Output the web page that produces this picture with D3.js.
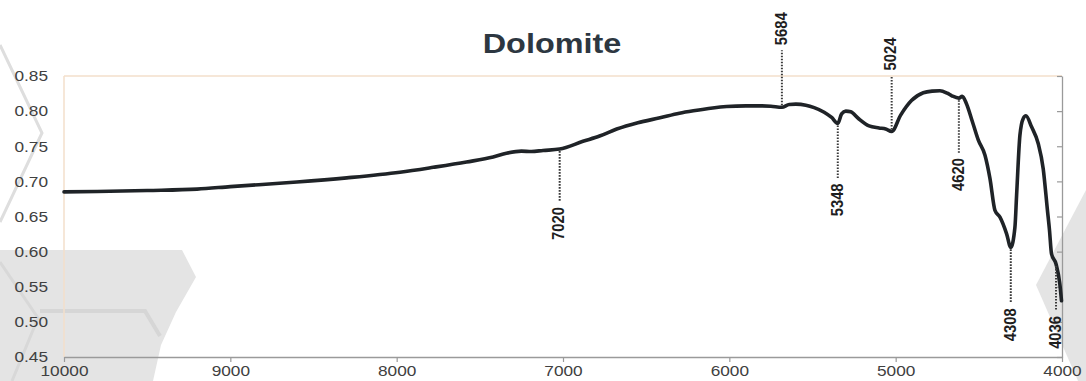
<!DOCTYPE html>
<html>
<head>
<meta charset="utf-8">
<script src="https://cdn.jsdelivr.net/npm/d3@7/dist/d3.min.js"></script>
<style>
  html, body { margin: 0; padding: 0; background: #fff; }
  svg { display: block; }
</style>
</head>
<body>
<svg id="chart" width="1086" height="381"></svg>
<script>
// Dolomite NIR spectrum, wavenumber (cm-1) against reflectance
const wavenumbers = [
  10000, 9800, 9500, 9200, 9000, 8600, 8300, 7980, 7780, 7580, 7420, 7340, 7250, 7190, 7120, 7020,
  6880, 6780, 6677, 6550, 6417, 6300, 6216, 6100, 6016, 5900, 5816, 5750, 5684, 5640, 5600, 5540,
  5490, 5430, 5385, 5348, 5325, 5300, 5270, 5224, 5160, 5100, 5060, 5024, 4970, 4905, 4834, 4780,
  4734, 4690, 4660, 4620, 4600, 4575, 4540, 4503, 4463, 4433, 4403, 4373, 4333, 4308, 4283, 4273,
  4253, 4233, 4217, 4183, 4143, 4113, 4088, 4075, 4063, 4036, 4013, 4003
];
const reflectance = [
  0.685, 0.6855, 0.687, 0.689, 0.6925, 0.699, 0.705, 0.713, 0.720, 0.7276, 0.7347, 0.740, 0.743, 0.7425, 0.744, 0.746,
  0.757, 0.7645, 0.7745, 0.7835, 0.7905, 0.797, 0.8005, 0.8045, 0.8065, 0.8075, 0.8075, 0.807, 0.8055, 0.8095, 0.810, 0.8085,
  0.805, 0.7985, 0.791, 0.7825, 0.796, 0.800, 0.799, 0.7895, 0.779, 0.776, 0.7745, 0.771, 0.7943, 0.815, 0.8262, 0.8285,
  0.829, 0.8255, 0.8215, 0.8185, 0.821, 0.811, 0.786, 0.7586, 0.7371, 0.7039, 0.6586, 0.649, 0.6253, 0.6061, 0.6347, 0.680,
  0.7657, 0.7896, 0.7935, 0.7776, 0.7539, 0.7181, 0.660, 0.630, 0.5967, 0.5824, 0.5539, 0.530
];

// Axis ticks
const xTicks = [10000, 9000, 8000, 7000, 6000, 5000, 4000];
const yTicks = [0.45, 0.50, 0.55, 0.60, 0.65, 0.70, 0.75, 0.80, 0.85];

// Annotated band positions and which side of the curve each label sits on
const markWavenumbers = [7020, 5684, 5348, 5024, 4620, 4308, 4036];
const markSides = ["below", "above", "below", "above", "below", "below", "below"];

const titleText = "Dolomite";

// ---- layout ----
const plot = { left: 64, right: 1062, top: 76, bottom: 357 };
const markLengths = [53, 57, 55, 56, 55, 56, 47];
const labelFont = "'Liberation Sans', Arial, Helvetica, sans-serif";
const stretch = 1.15;

const svg = d3.select("#chart");

// faint background artwork
const bg = svg.append("g");
bg.append("polygon")
  .attr("points", "0,250 182,250 196,277 176,312 161,345 153,381 0,381")
  .attr("fill", "#e4e4e4");
bg.append("polyline")
  .attr("points", "40,311 145,311 160,336")
  .attr("fill", "none").attr("stroke", "#d6d6d6").attr("stroke-width", 4);
bg.append("polyline")
  .attr("points", "0,45 42,133 0,222")
  .attr("fill", "none").attr("stroke", "#dedede").attr("stroke-width", 3);
bg.append("polyline")
  .attr("points", "0,262 38,318 12,381")
  .attr("fill", "none").attr("stroke", "#d8d8d8").attr("stroke-width", 3);
bg.append("polygon")
  .attr("points", "1036,285 1086,190 1086,381 1078,381")
  .attr("fill", "#e4e4e4");

const x = d3.scaleLinear().domain([10000, 4000]).range([plot.left, plot.right]);
const y = d3.scaleLinear().domain([0.45, 0.85]).range([plot.bottom, plot.top]);

// plot frame: light top and left edges
svg.append("line")
  .attr("x1", plot.left).attr("x2", plot.right)
  .attr("y1", plot.top).attr("y2", plot.top)
  .attr("stroke", "#f3dfcb").attr("stroke-width", 1.5);
svg.append("line")
  .attr("x1", plot.left).attr("x2", plot.left)
  .attr("y1", plot.top).attr("y2", plot.bottom)
  .attr("stroke", "#f3dfcb").attr("stroke-width", 1.5);

// left axis labels
const yAxis = svg.append("g")
  .attr("transform", `translate(${plot.left},0)`)
  .call(d3.axisLeft(y).tickValues(yTicks).tickFormat(d3.format(".2f")).tickSize(0).tickPadding(0));
yAxis.select(".domain").remove();
yAxis.selectAll("text")
  .attr("x", -16 / stretch)
  .attr("transform", `scale(${stretch},1)`)
  .attr("fill", "#404040")
  .style("font-family", labelFont)
  .style("font-size", "15px");

// right axis with inward ticks
const yAxisRight = svg.append("g")
  .attr("transform", `translate(${plot.right},0)`)
  .call(d3.axisLeft(y).tickValues(yTicks).tickFormat("").tickSizeInner(5).tickSizeOuter(0));
yAxisRight.select(".domain").attr("stroke", "#9a9a9a").attr("stroke-width", 1.3);
yAxisRight.selectAll(".tick line").attr("stroke", "#9a9a9a").attr("stroke-width", 1.2);

// bottom axis
const xAxis = svg.append("g")
  .attr("transform", `translate(0,${plot.bottom})`)
  .call(d3.axisBottom(x).tickValues(xTicks).tickFormat(d3.format("d")).tickSizeInner(5).tickSizeOuter(0).tickPadding(3));
xAxis.select(".domain").attr("stroke", "#9a9a9a").attr("stroke-width", 1.3);
xAxis.selectAll(".tick line").attr("stroke", "#9a9a9a").attr("stroke-width", 1.2);
xAxis.selectAll(".tick text")
  .attr("transform", `scale(${stretch},1)`)
  .attr("fill", "#404040")
  .style("font-family", labelFont)
  .style("font-size", "15px");

// title
svg.append("text")
  .attr("transform", `translate(552,53) scale(1.2,1)`)
  .attr("text-anchor", "middle")
  .attr("fill", "#2d3741")
  .style("font-family", labelFont)
  .style("font-weight", "bold")
  .style("font-size", "27px")
  .text(titleText);

// spectrum
const spectrum = wavenumbers.map((w, i) => ({ w, v: reflectance[i] }));
svg.append("path")
  .datum(spectrum)
  .attr("fill", "none")
  .attr("stroke", "#1f2327")
  .attr("stroke-width", 3.6)
  .attr("stroke-linejoin", "round")
  .attr("stroke-linecap", "round")
  .attr("d", d3.line().x(d => x(d.w)).y(d => y(d.v)).curve(d3.curveMonotoneX));

// reflectance at a given wavenumber (linear between samples)
const valueAt = w => {
  const i = wavenumbers.indexOf(w);
  if (i >= 0) return reflectance[i];
  const j = wavenumbers.findIndex(d => d < w);
  const a = spectrum[j - 1], b = spectrum[j];
  return a.v + (b.v - a.v) * (w - a.w) / (b.w - a.w);
};

// band markers: dotted leader from the curve plus rotated wavenumber label
const marks = svg.append("g");
markWavenumbers.forEach((w, i) => {
  const mx = x(w);
  const my = y(valueAt(w));
  const dir = markSides[i] === "above" ? -1 : 1;
  const end = my + dir * markLengths[i];
  marks.append("line")
    .attr("x1", mx).attr("x2", mx)
    .attr("y1", my + dir * 2).attr("y2", end)
    .attr("stroke", "#3a3a3a")
    .attr("stroke-width", 2)
    .attr("stroke-dasharray", "1.6 1.4");
  const ty = end + dir * 5;
  marks.append("text")
    .attr("transform", `translate(${mx},${ty}) rotate(-90) scale(0.87,1)`)
    .attr("text-anchor", dir > 0 ? "end" : "start")
    .attr("dy", "0.28em")
    .attr("fill", "#1e1e1e")
    .style("font-family", labelFont)
    .style("font-weight", "bold")
    .style("font-size", "17px")
    .text(String(w));
});
</script>
</body>
</html>
